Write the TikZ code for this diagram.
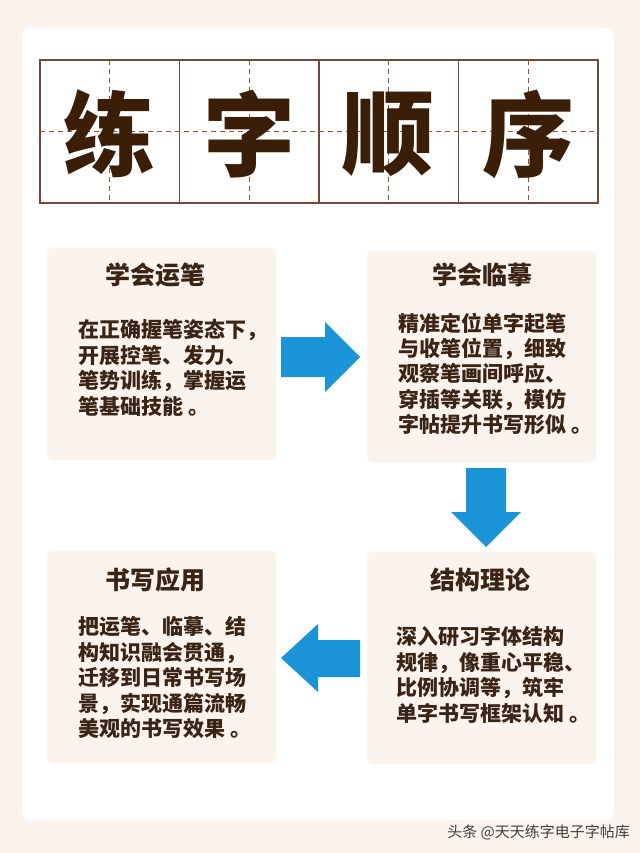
\documentclass[tikz,border=0pt]{standalone}
\usepackage{fontspec}
\newfontfamily\cjk{Noto Sans CJK SC}
\definecolor{bgcol}{HTML}{FBF3EE}
\definecolor{boxcol}{HTML}{FBF3EE}
\definecolor{txtcol}{HTML}{3A2415}
\definecolor{kaicol}{HTML}{3B1E08}
\definecolor{arrcol}{HTML}{1A94D6}
\definecolor{gridcol}{HTML}{6E4B3A}
\definecolor{dashcol}{HTML}{A0522D}
\tikzset{
  box/.style={fill=boxcol, draw=none, rounded corners=6pt, minimum width=229pt, minimum height=212pt, inner sep=0pt},
  boxtitle/.style={font=\cjk\bfseries\fontsize{25}{30}\selectfont, text=txtcol, inner sep=0pt},
  boxbody/.style={font=\cjk\bfseries\fontsize{21}{25.4}\selectfont, text=txtcol, align=left, inner sep=0pt, anchor=north west},
  bigchar/.style={font=\cjk\bfseries\fontsize{92}{92}\selectfont, text=kaicol, inner sep=0pt},
  gridline/.style={draw=gridcol, line width=1.6pt},
  gridin/.style={draw=gridcol, line width=1.2pt},
  griddash/.style={draw=dashcol, line width=1pt, dash pattern=on 5pt off 4pt},
  blockarrow/.style={fill=arrcol, draw=none},
}
\begin{document}
\begin{tikzpicture}[x=1pt, y=-1pt]
\useasboundingbox (0,0) rectangle (640,853);
\fill[bgcol] (0,0) rectangle (640,853);
\fill[white, rounded corners=8pt] (22,28) rectangle (614,820);

% title grid
\foreach \cx in {109.75,249.25,388.75,528.25}
  \draw[griddash] (\cx,60) -- (\cx,203);
\draw[griddash] (40,131.5) -- (598,131.5);
\foreach \vx in {179.5,319,458.5}
  \draw[gridin] (\vx,60) -- (\vx,203);
\draw[gridline] (40,60) rectangle (598,203);
\node[bigchar] (t1) at (109.75,134) {练};
\node[bigchar] (t2) at (249.25,134) {字};
\node[bigchar] (t3) at (388.75,134) {顺};
\node[bigchar] (t4) at (528.25,134) {序};

% boxes
\node[box] (b1) at (161.5,354) {};
\node[box] (b2) at (481.5,356.5) {};
\node[box] (b3) at (481.5,658) {};
\node[box] (b4) at (161.5,657) {};

\node[boxtitle] (h1) at (155,275) {学会运笔};
\node[boxtitle] (h2) at (482,275) {学会临摹};
\node[boxtitle] (h3) at (480,580) {结构理论};
\node[boxtitle] (h4) at (155,580) {书写应用};

\node[boxbody] (p1) at (78,319.5) {在正确握笔姿态下，\\开展控笔、发力、\\笔势训练，掌握运\\笔基础技能 。};
\node[boxbody] (p2) at (398,312.5) {精准定位单字起笔\\与收笔位置，细致\\观察笔画间呼应、\\穿插等关联，模仿\\字帖提升书写形似 。};
\node[boxbody] (p3) at (396,626.5) {深入研习字体结构\\规律，像重心平稳、\\比例协调等，筑牢\\单字书写框架认知 。};
\node[boxbody] (p4) at (78,616.5) {把运笔、临摹、结\\构知识融会贯通，\\迁移到日常书写场\\景，实现通篇流畅\\美观的书写效果 。};

% block arrows
\fill[blockarrow] (281,337) -- (325,337) -- (325,322) -- (360,357) -- (325,392) -- (325,377) -- (281,377) -- cycle;
\fill[blockarrow] (466,468) -- (506,468) -- (506,512) -- (521,512) -- (486,547) -- (451,512) -- (466,512) -- cycle;
\fill[blockarrow] (360,640) -- (318,640) -- (318,624) -- (281,658) -- (318,692) -- (318,677) -- (360,677) -- cycle;

% watermark
\node[font=\cjk\fontsize{15}{18}\selectfont, text=black!75, anchor=east, inner sep=0pt] (wm) at (630,832) {头条 @天天练字电子字帖库};
\end{tikzpicture}
\end{document}
